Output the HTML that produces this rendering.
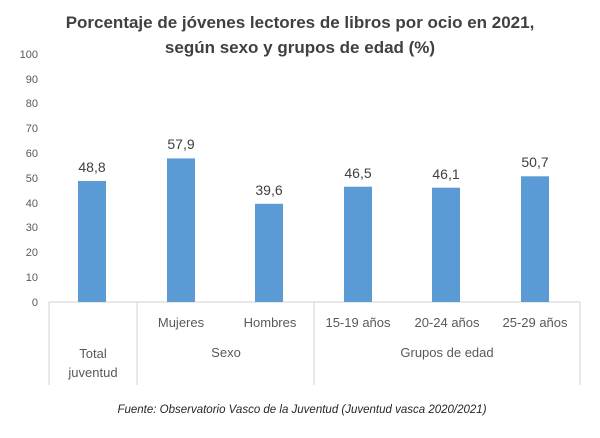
<!DOCTYPE html>
<html><head><style>
body{margin:0;background:#fff;}
svg text{font-family:"Liberation Sans",sans-serif;}
</style></head><body>
<svg width="600" height="433" viewBox="0 0 600 433" xmlns="http://www.w3.org/2000/svg">
<rect width="600" height="433" fill="#fff"/>
<text x="300" y="28" text-anchor="middle" font-size="17" font-weight="bold" fill="#404040">Porcentaje de jóvenes lectores de libros por ocio en 2021,</text>
<text x="300" y="53" text-anchor="middle" font-size="17" font-weight="bold" fill="#404040">según sexo y grupos de edad (%)</text>
<g font-size="11" fill="#595959" text-anchor="end">
<text x="38" y="58">100</text><text x="38" y="83">90</text><text x="38" y="107">80</text>
<text x="38" y="132">70</text><text x="38" y="157">60</text><text x="38" y="182">50</text>
<text x="38" y="207">40</text><text x="38" y="231">30</text><text x="38" y="256">20</text>
<text x="38" y="281">10</text><text x="38" y="306">0</text>
</g>
<g stroke="#d9d9d9" stroke-width="1.2">
<line x1="49" y1="302" x2="580" y2="302"/>
<line x1="49" y1="302" x2="49" y2="385"/>
<line x1="137" y1="302" x2="137" y2="385"/>
<line x1="314" y1="302" x2="314" y2="385"/>
<line x1="580" y1="302" x2="580" y2="385"/>
</g>
<g fill="#5b9bd5">
<rect x="78" y="181" width="28" height="121"/>
<rect x="167" y="158.4" width="28" height="143.6"/>
<rect x="255" y="203.8" width="28" height="98.2"/>
<rect x="344" y="186.7" width="28" height="115.3"/>
<rect x="432" y="187.7" width="28" height="114.3"/>
<rect x="521" y="176.3" width="28" height="125.7"/>
</g>
<g font-size="14" fill="#404040" text-anchor="middle">
<text x="92" y="172">48,8</text><text x="181" y="149">57,9</text><text x="269" y="195">39,6</text>
<text x="358" y="178">46,5</text><text x="446" y="179">46,1</text><text x="535" y="167">50,7</text>
</g>
<g font-size="13" fill="#595959" text-anchor="middle">
<text x="181" y="327">Mujeres</text><text x="270" y="327">Hombres</text>
<text x="358" y="327">15-19 años</text><text x="447" y="327">20-24 años</text><text x="535" y="327">25-29 años</text>
<text x="226" y="357">Sexo</text><text x="447" y="357">Grupos de edad</text>
<text x="93" y="358">Total</text><text x="93" y="377">juventud</text>
</g>
<text x="302" y="413" text-anchor="middle" font-size="11.5" font-style="italic" fill="#262626">Fuente: Observatorio Vasco de la Juventud (Juventud vasca 2020/2021)</text>
</svg>
</body></html>
